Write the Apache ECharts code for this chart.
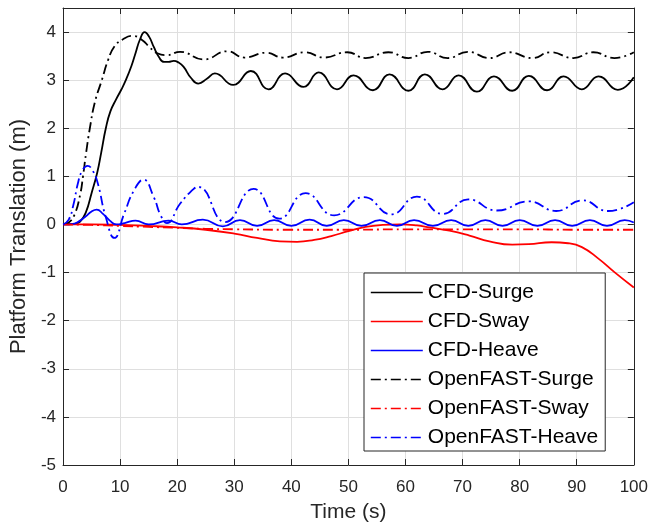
<!DOCTYPE html>
<html><head><meta charset="utf-8">
<script src="https://cdn.jsdelivr.net/npm/echarts@6/dist/echarts.min.js"></script>
<style>html,body{margin:0;padding:0;background:#fff}#c{width:651px;height:529px}</style>
</head><body><div id="c"></div>
<script>
const seriesNames = ['CFD-Surge', 'CFD-Sway', 'CFD-Heave', 'OpenFAST-Surge', 'OpenFAST-Sway', 'OpenFAST-Heave'];

const cfdSurgeT = [0, 2, 3, 4, 5, 6, 6.7, 7.5, 8.3, 9.3, 10.2, 11, 12, 12.7, 13.5, 14.3, 15.1, 15.9, 16.8, 17.7, 18.5, 19.4, 20.2, 21.1, 22.4, 23.7, 25.2, 26.6, 29.8, 32.9, 36.0, 38.9, 42.1, 44.8, 48.0, 50.9, 54.3, 57.2, 60.5, 63.4, 66.5, 69.3, 72.5, 75.5, 78.7, 81.6, 84.8, 87.7, 90.9, 93.8, 97.2, 100];
const cfdSurgeV = [0, 0.01, 0.06, 0.25, 0.65, 1.08, 1.5, 2.0, 2.35, 2.6, 2.8, 3.0, 3.3, 3.56, 3.85, 4.0, 3.9, 3.69, 3.48, 3.38, 3.38, 3.40, 3.37, 3.28, 3.05, 2.93, 3.03, 3.14, 2.90, 3.19, 2.81, 3.14, 2.86, 3.16, 2.81, 3.10, 2.79, 3.12, 2.78, 3.12, 2.81, 3.10, 2.76, 3.08, 2.78, 3.09, 2.79, 3.08, 2.81, 3.08, 2.80, 3.06];

const cfdSwayT = [0, 5, 10, 15, 20, 25, 30, 34, 38, 41, 44, 47, 50, 53, 56, 59, 62, 64.2, 67.7, 71.2, 74.7, 78.7, 81.6, 85.6, 88.5, 90.9, 93.8, 96.6, 100];
const cfdSwayV = [0, 0, -0.01, -0.03, -0.06, -0.11, -0.19, -0.28, -0.35, -0.36, -0.32, -0.24, -0.14, -0.05, -0.01, 0.0, -0.02, -0.06, -0.13, -0.23, -0.35, -0.42, -0.41, -0.37, -0.39, -0.47, -0.71, -0.99, -1.31];

const cfdHeaveT = [0, 2, 3, 4, 5, 5.9, 7, 8.2, 9.3, 10.8, 12.7, 15.0, 18.5, 20.8, 24.5, 28.0, 31.0, 34.0, 37.0, 40.0, 43.2, 46.2, 49.2, 52.3, 55.5, 58.5, 61.5, 64.8, 68.0, 71.0, 74.0, 77.0, 80.0, 83.1, 86.2, 89.2, 92.3, 95.3, 98.4, 100];
const cfdHeaveV = [0, 0.02, 0.08, 0.17, 0.27, 0.31, 0.22, 0.08, 0.0, 0.03, 0.08, 0.0, 0.08, 0.0, 0.1, -0.04, 0.09, -0.03, 0.09, -0.03, 0.1, -0.03, 0.09, -0.03, 0.09, -0.03, 0.09, -0.03, 0.09, -0.03, 0.09, -0.03, 0.09, -0.03, 0.09, -0.03, 0.09, -0.03, 0.09, 0.04];

const ofSurgeT = [0, 1, 2, 3, 3.5, 4.0, 4.7, 5.6, 6.8, 7.9, 9.0, 10.5, 12.2, 13.9, 15.2, 16.5, 18.2, 20.5, 24.6, 28.8, 31.8, 35.6, 38.5, 42.4, 45.7, 49.8, 53.0, 57.0, 60.5, 63.9, 67.4, 70.9, 74.7, 78.1, 82.2, 85.4, 89.4, 92.9, 96.6, 100];
const ofSurgeV = [0, 0.04, 0.2, 0.62, 1.0, 1.45, 2.0, 2.55, 3.0, 3.42, 3.7, 3.85, 3.92, 3.83, 3.68, 3.56, 3.52, 3.59, 3.43, 3.60, 3.47, 3.57, 3.47, 3.58, 3.47, 3.58, 3.46, 3.58, 3.46, 3.59, 3.46, 3.59, 3.46, 3.58, 3.46, 3.58, 3.46, 3.58, 3.46, 3.58];

const ofSwayT = [0, 5, 10, 15, 20, 25, 30, 40, 50, 60, 70, 80, 90, 100];
const ofSwayV = [0, -0.01, -0.03, -0.05, -0.07, -0.09, -0.1, -0.11, -0.11, -0.1, -0.1, -0.1, -0.11, -0.11];

const ofHeaveT = [0, 1, 1.8, 2.6, 3.3, 4.3, 5.2, 6.1, 7.5, 9.0, 10.7, 12.4, 14.1, 15.9, 17.1, 18.2, 20.5, 22.9, 23.7, 28.4, 33.4, 37.9, 42.5, 47.5, 52.7, 57.5, 62.0, 66.5, 71.0, 76.0, 81.6, 86.4, 91.0, 95.5, 100];
const ofHeaveV = [0, 0.1, 0.4, 0.85, 1.1, 1.22, 1.12, 0.85, 0.15, -0.28, 0.22, 0.7, 0.93, 0.57, 0.19, 0.03, 0.43, 0.74, 0.78, 0.05, 0.74, 0.12, 0.65, 0.19, 0.57, 0.21, 0.58, 0.22, 0.52, 0.29, 0.48, 0.28, 0.5, 0.28, 0.46];

const FONT = '"Liberation Sans", Arial, Helvetica, sans-serif';
const AX = '#262626';
const mk = (T, V) => T.map((t, i) => [t, V[i]]);
const dashDot = [10, 4, 2, 4];

const defs = [
  { T: cfdSurgeT, V: cfdSurgeV, color: '#000000', type: 'solid' },
  { T: cfdSwayT, V: cfdSwayV, color: '#ff0000', type: 'solid' },
  { T: cfdHeaveT, V: cfdHeaveV, color: '#0000ff', type: 'solid' },
  { T: ofSurgeT, V: ofSurgeV, color: '#000000', type: dashDot },
  { T: ofSwayT, V: ofSwayV, color: '#ff0000', type: dashDot },
  { T: ofHeaveT, V: ofHeaveV, color: '#0000ff', type: dashDot }
];

const series = defs.map((d, i) => ({
  name: seriesNames[i],
  type: 'line',
  data: mk(d.T, d.V),
  smooth: 0.5,
  symbol: 'none',
  showSymbol: false,
  lineStyle: { color: d.color, width: 1.8, type: d.type },
  itemStyle: { color: d.color },
  emphasis: { disabled: true },
  animation: false,
  z: 2 + i
}));

const chart = echarts.init(document.getElementById('c'), null, { renderer: 'canvas' });
chart.setOption({
  backgroundColor: '#ffffff',
  animation: false,
  textStyle: { fontFamily: FONT },
  grid: { left: 60, right: 15, top: 8, bottom: 64, containLabel: false },
  legend: {
    show: true,
    orient: 'vertical',
    left: 364,
    top: 273,
    padding: [9, 7, 3, 6],
    itemWidth: 52,
    itemHeight: 14,
    itemGap: 8,
    backgroundColor: '#ffffff',
    borderColor: AX,
    borderWidth: 1,
    borderRadius: 0,
    selectedMode: false,
    itemStyle: { opacity: 0 },
    lineStyle: { width: 1.6 },
    textStyle: { fontSize: 21, color: '#000000', fontFamily: FONT, lineHeight: 21 },
    data: seriesNames
  },
  xAxis: [
    {
      type: 'value', min: 0, max: 100, interval: 10,
      name: 'Time (s)', nameLocation: 'middle', nameGap: 37,
      nameTextStyle: { fontSize: 21, color: AX, fontFamily: FONT },
      axisLine: { show: true, onZero: false, lineStyle: { color: AX, width: 1 } },
      axisTick: { show: true, inside: true, length: 6, lineStyle: { color: AX } },
      axisLabel: { fontSize: 17, color: AX, margin: 14, fontFamily: FONT },
      splitLine: { show: true, lineStyle: { color: '#dfdfdf', width: 1 } }
    },
    {
      type: 'value', position: 'top', min: 0, max: 100, interval: 10,
      axisLine: { show: true, onZero: false, lineStyle: { color: AX, width: 1 } },
      axisTick: { show: true, inside: true, length: 6, lineStyle: { color: AX } },
      axisLabel: { show: false },
      splitLine: { show: false }
    }
  ],
  yAxis: [
    {
      type: 'value', min: -5, max: 4.5, interval: 1,
      name: 'Platform Translation (m)', nameLocation: 'middle', nameGap: 29,
      nameTextStyle: { fontSize: 22, color: AX, fontFamily: FONT },
      axisLine: { show: true, onZero: false, lineStyle: { color: AX, width: 1 } },
      axisTick: { show: true, inside: true, length: 6, lineStyle: { color: AX } },
      axisLabel: { fontSize: 17, color: AX, margin: 7, fontFamily: FONT, showMaxLabel: false,
        formatter: v => (Number.isInteger(v) ? String(v) : '') },
      splitLine: { show: true, lineStyle: { color: '#dfdfdf', width: 1 } }
    },
    {
      type: 'value', position: 'right', min: -5, max: 4.5, interval: 1,
      axisLine: { show: true, onZero: false, lineStyle: { color: AX, width: 1 } },
      axisTick: { show: true, inside: true, length: 6, lineStyle: { color: AX } },
      axisLabel: { show: false },
      splitLine: { show: false }
    }
  ],
  series: series
});
</script>
</body></html>
